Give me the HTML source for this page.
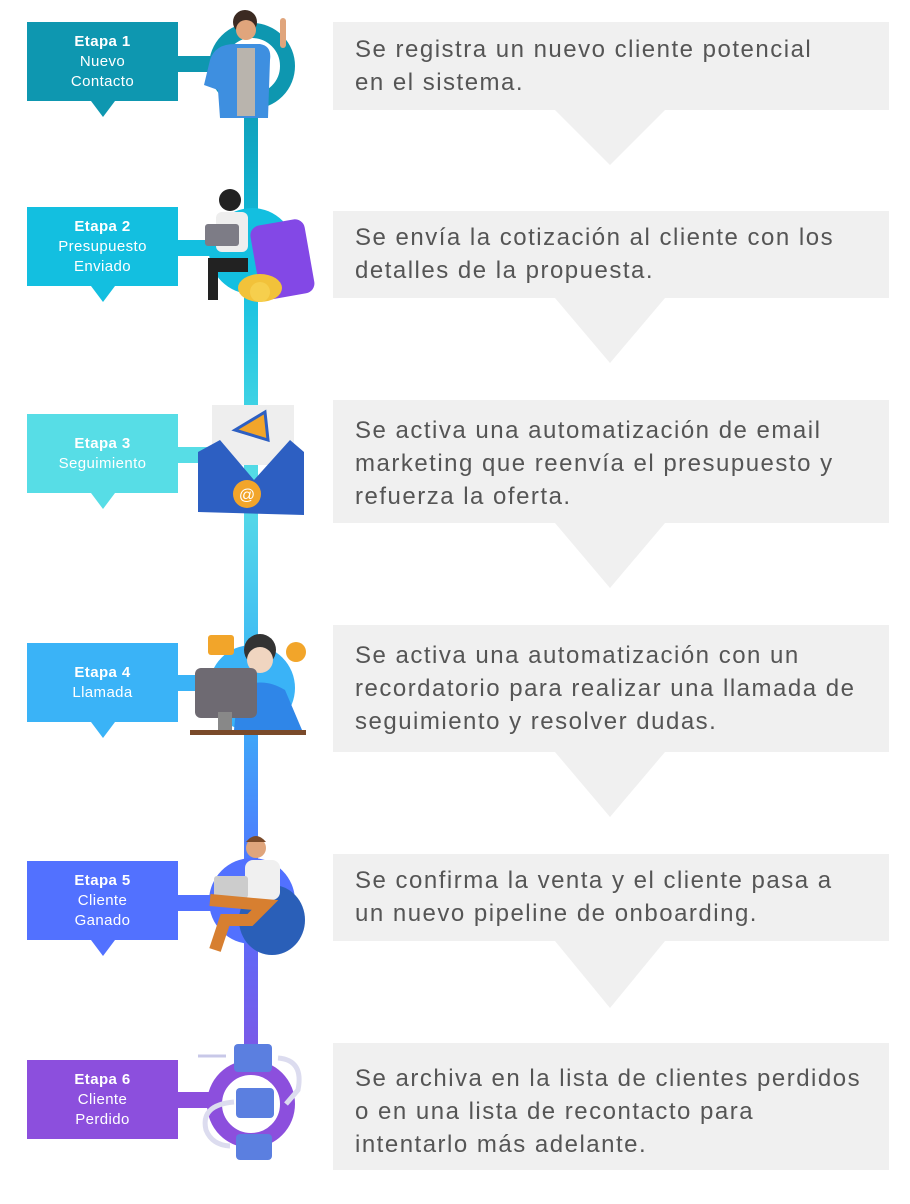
<!DOCTYPE html>
<html><head><meta charset="utf-8"><style>
*{margin:0;padding:0;box-sizing:border-box}
body{width:910px;height:1204px;background:#fff;position:relative;overflow:hidden;font-family:"Liberation Sans",sans-serif}
.a{position:absolute}
.lab{position:absolute;left:27px;width:151px;height:79px;color:#fff;font-size:15px;letter-spacing:0.4px;line-height:20px;text-align:center;display:flex;flex-direction:column;justify-content:center}
.lab b{font-weight:bold}
.lab .t{position:absolute;left:64px;bottom:-16px;width:0;height:0;border-left:12px solid transparent;border-right:12px solid transparent;border-top:16px solid}
.box{position:absolute;left:333px;width:556px;background:#f0f0f0;color:#555;font-size:24px;letter-spacing:1.5px;line-height:33px;padding-left:22px;display:flex;flex-direction:column;justify-content:flex-start}
.box .t{position:absolute;left:222px;width:0;height:0;border-left:55px solid transparent;border-right:55px solid transparent;border-top:65px solid #f0f0f0}
</style></head><body>
<div class="a" style="left:244px;top:60px;width:14px;height:1060px;background:linear-gradient(#0e97b0 0%,#13bfe0 20%,#57dde6 40%,#3ab3f7 60%,#5271ff 78%,#8c4fdd 100%)"></div>

<div class="a" style="left:170px;top:56px;width:50px;height:16px;background:#0e97b0"></div>
<div class="a" style="left:209px;top:23px;width:86px;height:86px;border-radius:50%;border:15px solid #0e97b0"></div>
<div class="a" style="left:170px;top:240px;width:50px;height:16px;background:#13bfe0"></div>
<div class="a" style="left:209px;top:208px;width:86px;height:86px;border-radius:50%;background:#13bfe0"></div>
<div class="a" style="left:170px;top:447px;width:50px;height:16px;background:#57dde6"></div>
<div class="a" style="left:170px;top:675px;width:50px;height:16px;background:#3ab3f7"></div>
<div class="a" style="left:209px;top:645px;width:86px;height:86px;border-radius:50%;background:#3ab3f7"></div>
<div class="a" style="left:170px;top:895px;width:50px;height:16px;background:#5271ff"></div>
<div class="a" style="left:209px;top:858px;width:86px;height:86px;border-radius:50%;background:#5271ff"></div>
<div class="a" style="left:170px;top:1092px;width:50px;height:16px;background:#8c4fdd"></div>
<div class="a" style="left:207px;top:1060px;width:88px;height:88px;border-radius:50%;border:15px solid #8c4fdd;background:#fff"></div>

<svg class="a" style="left:190px;top:0" width="130" height="1204">
 <circle cx="55" cy="22" r="12" fill="#3b2a22"/><circle cx="56" cy="30" r="10" fill="#e0a57c"/>
 <path d="M20 60 Q25 44 45 44 L70 44 Q82 46 80 60 L78 118 L30 118 L28 90 L14 85 Z" fill="#3e8fe0"/>
 <rect x="47" y="48" width="18" height="68" fill="#b9b4ad"/>
 <rect x="90" y="18" width="6" height="30" rx="3" fill="#e0a57c"/>
 <rect x="65" y="222" width="55" height="75" rx="10" fill="#8348e6" transform="rotate(-10 92 260)"/>
 <ellipse cx="70" cy="288" rx="22" ry="14" fill="#f2c23a"/><circle cx="70" cy="292" r="10" fill="#f6cf4d"/>
 <circle cx="40" cy="200" r="11" fill="#222"/><rect x="26" y="212" width="32" height="40" rx="6" fill="#eee"/>
 <rect x="15" y="224" width="34" height="22" rx="3" fill="#7d7c86"/>
 <rect x="18" y="258" width="40" height="14" fill="#222"/><rect x="18" y="270" width="10" height="30" fill="#222"/>
 <rect x="22" y="405" width="82" height="60" fill="#eeeeee"/>
 <path d="M8 452 L30 440 L64 480 L100 440 L114 452 L114 515 L8 512 Z" fill="#2d5fc2"/>
 <circle cx="57" cy="494" r="14" fill="#f2a52a"/><text x="57" y="500" font-size="16" fill="#fff" text-anchor="middle" font-family="Liberation Sans">@</text>
 <path d="M45 430 L75 412 L78 440 Z" fill="#f2a52a" stroke="#2d5fc2" stroke-width="3"/>
 <rect x="18" y="635" width="26" height="20" rx="3" fill="#f2a52a"/>
 <circle cx="106" cy="652" r="10" fill="#f2a52a"/>
 <circle cx="70" cy="650" r="16" fill="#333"/><circle cx="70" cy="660" r="13" fill="#f0d5c0"/>
 <path d="M48 690 Q70 675 95 690 L112 730 L44 730 Z" fill="#2f86e8"/>
 <rect x="5" y="668" width="62" height="50" rx="6" fill="#6e6a72"/><rect x="28" y="712" width="14" height="18" fill="#888"/>
 <rect x="0" y="730" width="116" height="5" fill="#7a4a2a"/>
 <ellipse cx="82" cy="920" rx="33" ry="35" fill="#2a5fb8"/>
 <circle cx="66" cy="848" r="10" fill="#e0a57c"/><path d="M56 842 Q66 830 76 842" fill="#7a4a2a"/>
 <rect x="55" y="860" width="35" height="40" rx="8" fill="#f0f0f0"/>
 <rect x="24" y="876" width="34" height="22" rx="3" fill="#ccc"/>
 <path d="M20 900 L75 905 L60 920 L35 920 L25 950" stroke="#d77f30" stroke-width="12" fill="none"/>
 <rect x="44" y="1044" width="38" height="28" rx="4" fill="#5b7fe0"/>
 <rect x="46" y="1088" width="38" height="30" rx="4" fill="#5b7fe0"/>
 <rect x="46" y="1134" width="36" height="26" rx="4" fill="#5b7fe0"/>
 <path d="M8 1056 L36 1056" stroke="#c8c8e8" stroke-width="3"/>
 <path d="M88 1058 Q114 1060 108 1090 L96 1104" stroke="#dcdcef" stroke-width="5" fill="none"/>
 <path d="M44 1102 Q10 1105 16 1130 Q22 1145 40 1146" stroke="#dcdcef" stroke-width="5" fill="none"/>
</svg>

<div class="lab" style="top:22px;background:#0e97b0"><b>Etapa 1</b><span>Nuevo</span><span>Contacto</span><i class="t" style="border-top-color:#0e97b0"></i></div>
<div class="lab" style="top:207px;background:#13bfe0"><b>Etapa 2</b><span>Presupuesto</span><span>Enviado</span><i class="t" style="border-top-color:#13bfe0"></i></div>
<div class="lab" style="top:414px;background:#57dde6"><b>Etapa 3</b><span>Seguimiento</span><i class="t" style="border-top-color:#57dde6"></i></div>
<div class="lab" style="top:643px;background:#3ab3f7"><b>Etapa 4</b><span>Llamada</span><i class="t" style="border-top-color:#3ab3f7"></i></div>
<div class="lab" style="top:861px;background:#5271ff"><b>Etapa 5</b><span>Cliente</span><span>Ganado</span><i class="t" style="border-top-color:#5271ff"></i></div>
<div class="lab" style="top:1060px;background:#8c4fdd"><b>Etapa 6</b><span>Cliente</span><span>Perdido</span></div>

<div class="box" style="top:22px;height:88px;padding-top:11px">Se registra un nuevo cliente potencial<br>en el sistema.<i class="t" style="top:88px;border-top-width:55px"></i></div>
<div class="box" style="top:211px;height:87px;padding-top:10px">Se envía la cotización al cliente con los<br>detalles de la propuesta.<i class="t" style="top:87px"></i></div>
<div class="box" style="top:400px;height:123px;padding-top:14px">Se activa una automatización de email<br>marketing que reenvía el presupuesto y<br>refuerza la oferta.<i class="t" style="top:123px"></i></div>
<div class="box" style="top:625px;height:127px;padding-top:14px">Se activa una automatización con un<br>recordatorio para realizar una llamada de<br>seguimiento y resolver dudas.<i class="t" style="top:127px"></i></div>
<div class="box" style="top:854px;height:87px;padding-top:10px">Se confirma la venta y el cliente pasa a<br>un nuevo pipeline de onboarding.<i class="t" style="top:87px;border-top-width:67px"></i></div>
<div class="box" style="top:1043px;height:127px;padding-top:19px">Se archiva en la lista de clientes perdidos<br>o en una lista de recontacto para<br>intentarlo más adelante.</div>
</body></html>
